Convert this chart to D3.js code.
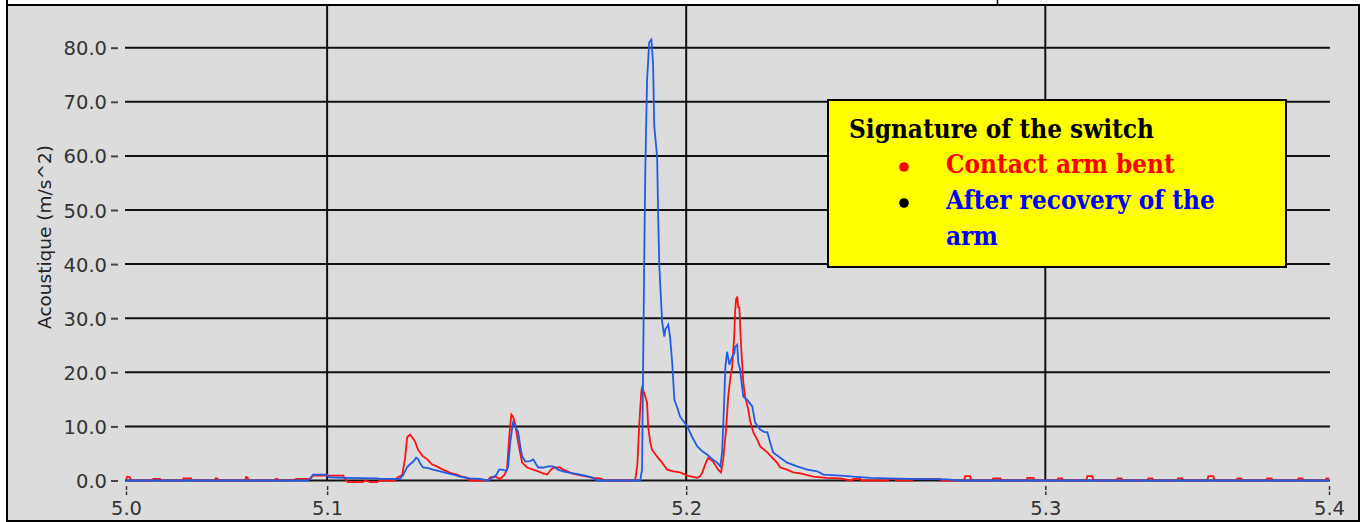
<!DOCTYPE html>
<html>
<head>
<meta charset="utf-8">
<script src="https://cdn.jsdelivr.net/npm/d3@7"></script>
<style>
  html, body { margin: 0; padding: 0; background: #ffffff; overflow: hidden; }
  svg { display: block; }
</style>
</head>
<body>
<svg id="chart" width="1361" height="522"></svg>
<script>
// Time axis (s): the edge ticks mark the visible window limits, shown to one decimal
const xTickValues = [5.044, 5.1, 5.2, 5.3, 5.379];
const xGridValues = [5.1, 5.2, 5.3];
const yTickValues = [0, 10, 20, 30, 40, 50, 60, 70, 80];
const yAxisTitle = "Acoustique (m/s^2)";

// Acoustic signature, contact arm bent (red)
const bentTime = [
  5.0440, 5.0443, 5.0451, 5.0454, 5.0515, 5.0516, 5.0521, 5.0535, 5.0538,
  5.0599, 5.0600, 5.0604, 5.0621, 5.0624, 5.0688, 5.0690, 5.0694, 5.0699,
  5.0772, 5.0774, 5.0777, 5.0783, 5.0855, 5.0857, 5.0861, 5.0869,
  5.0908, 5.0914, 5.0953, 5.0961, 5.1045, 5.1053, 5.1058, 5.1100, 5.1106,
  5.1120, 5.1139, 5.1148, 5.1189, 5.1195, 5.1209, 5.1217, 5.1223, 5.1231,
  5.1237, 5.1245, 5.1253, 5.1265, 5.1279, 5.1292, 5.1306, 5.1320, 5.1334,
  5.1348, 5.1362, 5.1376, 5.1390, 5.1398, 5.1448, 5.1454, 5.1468, 5.1482,
  5.1493, 5.1501, 5.1507, 5.1513, 5.1518, 5.1524, 5.1532, 5.1538, 5.1543,
  5.1557, 5.1574, 5.1588, 5.1602, 5.1613, 5.1621, 5.1630, 5.1649, 5.1657,
  5.1669, 5.1682, 5.1696, 5.1710, 5.1724, 5.1741, 5.1760, 5.1774, 5.1858,
  5.1864, 5.1869, 5.1875, 5.1877, 5.1883, 5.1891, 5.1894, 5.1900, 5.1905,
  5.1919, 5.1933, 5.1947, 5.1964, 5.1983, 5.2003, 5.2031, 5.2039, 5.2045,
  5.2053, 5.2061, 5.2075, 5.2089, 5.2097, 5.2103, 5.2111, 5.2117, 5.2123,
  5.2128, 5.2134, 5.2136, 5.2139, 5.2142, 5.2145, 5.2148, 5.2153, 5.2159,
  5.2164, 5.2173, 5.2178, 5.2187, 5.2198, 5.2206, 5.2226, 5.2240, 5.2253,
  5.2262, 5.2281, 5.2298, 5.2318, 5.2354, 5.2390, 5.2429, 5.2457,
  5.2462, 5.2465, 5.2485, 5.2488, 5.2562, 5.2565, 5.2582, 5.2585,
  5.2629, 5.2632, 5.2708, 5.2711, 5.2774, 5.2777, 5.2791, 5.2794,
  5.2852, 5.2855, 5.2875, 5.2878, 5.2947, 5.2950, 5.2967, 5.2970,
  5.3033, 5.3036, 5.3047, 5.3050, 5.3114, 5.3117, 5.3131, 5.3134,
  5.3198, 5.3201, 5.3212, 5.3215, 5.3284, 5.3287, 5.3298, 5.3301,
  5.3367, 5.3370, 5.3381, 5.3384, 5.3451, 5.3454, 5.3468, 5.3471,
  5.3532, 5.3535, 5.3546, 5.3549, 5.3615, 5.3618, 5.3630, 5.3633,
  5.3702, 5.3705, 5.3716, 5.3719, 5.3780, 5.3783, 5.3791
];
const bentAccel = [
  0, 0.7, 0.6, 0, 0, 0.3, 0.3, 0.3, 0,
  0, 0.4, 0.4, 0.4, 0, 0, 0.4, 0.4, 0,
  0, 0.6, 0.6, 0, 0, 0.3, 0.3, 0,
  0.1, 0.3, 0.3, 0.9, 0.9, 0, -0.3, -0.3, 0,
  -0.3, -0.3, 0, 0, 0.5, 1.0, 4.0, 8.0, 8.5,
  8.0, 7.2, 5.7, 4.6, 3.9, 3.0, 2.6, 2.1, 1.7,
  1.3, 1.1, 0.7, 0.5, 0, 0, 0.6, 0.7, 0.3,
  1.0, 2.0, 8.0, 12.2, 11.8, 10.3, 7.0, 5.0, 3.3,
  2.4, 2.0, 1.7, 1.3, 1.1, 1.8, 2.4, 2.4, 2.0,
  1.7, 1.3, 1.1, 0.9, 0.7, 0.5, 0.4, 0, 0,
  3.0, 10.0, 16.5, 17.1, 16.2, 14.4, 10.0, 7.0, 5.7,
  4.4, 3.3, 2.0, 1.7, 1.5, 0.9, 0.5, 0.8, 1.5,
  3.0, 4.2, 3.5, 2.0, 1.5, 3.9, 9.4, 15.5, 19.0,
  21.0, 27.0, 31.0, 33.5, 34.0, 32.0, 32.0, 24.7, 18.1,
  15.5, 13.1, 11.0, 8.9, 7.5, 6.3, 5.2, 4.2, 3.3,
  2.4, 2.0, 1.5, 1.3, 0.7, 0.5, 0.4, 0,
  0, 0.3, 0.3, 0, 0, 0.3, 0.3, 0,
  0, 0.3, 0.3, 0, 0, 0.8, 0.8, 0,
  0, 0.4, 0.4, 0, 0, 0.5, 0.5, 0,
  0, 0.4, 0.4, 0, 0, 0.8, 0.8, 0,
  0, 0.4, 0.4, 0, 0, 0.4, 0.4, 0,
  0, 0.4, 0.4, 0, 0, 0.8, 0.8, 0,
  0, 0.4, 0.4, 0, 0, 0.4, 0.4, 0,
  0, 0.4, 0.4, 0, 0, 0.4, 0.4
];

// Acoustic signature after recovery of the arm (blue)
const recoveredTime = [
  5.0440, 5.0947, 5.0955, 5.0961, 5.1000, 5.1006, 5.1050, 5.1139, 5.1148,
  5.1203, 5.1212, 5.1223, 5.1231, 5.1240, 5.1248, 5.1253, 5.1259, 5.1267,
  5.1281, 5.1295, 5.1315, 5.1337, 5.1357, 5.1370, 5.1398, 5.1426, 5.1448,
  5.1460, 5.1471, 5.1479, 5.1487, 5.1499, 5.1504, 5.1510, 5.1515, 5.1518,
  5.1524, 5.1532, 5.1538, 5.1543, 5.1552, 5.1565, 5.1574, 5.1582, 5.1588,
  5.1602, 5.1616, 5.1630, 5.1643, 5.1657, 5.1677, 5.1705, 5.1724, 5.1741,
  5.1752, 5.1872, 5.1877, 5.1883, 5.1886, 5.1891, 5.1897, 5.1903, 5.1905,
  5.1908, 5.1911, 5.1916, 5.1919, 5.1922, 5.1925, 5.1928, 5.1933, 5.1939,
  5.1942, 5.1947, 5.1950, 5.1955, 5.1961, 5.1967, 5.1975, 5.1983, 5.1994,
  5.2003, 5.2017, 5.2031, 5.2045, 5.2058, 5.2072, 5.2086, 5.2095, 5.2100,
  5.2106, 5.2109, 5.2114, 5.2120, 5.2128, 5.2134, 5.2136, 5.2142, 5.2145,
  5.2150, 5.2159, 5.2170, 5.2184, 5.2192, 5.2206, 5.2217, 5.2226, 5.2234,
  5.2242, 5.2262, 5.2281, 5.2309, 5.2337, 5.2365, 5.2382, 5.2429, 5.2465,
  5.2513, 5.2560, 5.2624, 5.2727, 5.2763, 5.3791
];
const recoveredAccel = [
  0, 0, 0.6, 1.1, 1.1, 0.6, 0.5, 0.4, 0.3,
  0.3, 1.0, 2.5, 3.0, 3.5, 4.2, 4.0, 3.2, 2.4,
  2.3, 2.0, 1.7, 1.3, 1.0, 0.7, 0.4, 0.3, 0,
  0.5, 1.0, 2.0, 2.0, 1.8, 2.5, 7.0, 9.5, 10.7,
  10.0, 9.0, 6.3, 4.5, 3.5, 3.6, 3.9, 3.0, 2.4,
  2.4, 2.6, 2.6, 2.0, 1.7, 1.4, 1.1, 0.8, 0.5,
  0, 0, 2.0, 40.0, 57.0, 74.0, 81.0, 81.5, 80.0,
  76.4, 65.5, 62.0, 59.8, 48.7, 40.0, 35.8, 29.3, 26.6,
  28.0, 28.4, 28.8, 26.6, 21.8, 14.9, 13.5, 11.8, 10.8,
  10.0, 8.0, 6.3, 5.4, 4.8, 4.0, 3.3, 2.6, 5.2,
  15.0, 21.0, 23.8, 21.4, 22.9, 23.5, 24.7, 25.1, 21.8,
  20.5, 15.5, 14.9, 13.7, 10.7, 9.4, 9.0, 8.9, 7.0,
  5.2, 4.2, 3.3, 2.6, 2.0, 1.7, 1.1, 0.9, 0.7,
  0.5, 0.4, 0.3, 0.2, 0, 0
];

const legendTitle = "Signature of the switch";
const legendItems = [
  { lines: ["Contact arm bent"], color: "#ff0000", bullet: "#ff0000" },
  { lines: ["After recovery of the", "arm"], color: "#0000ff", bullet: "#000000" }
];

const W = 1361, H = 522;
const svg = d3.select("#chart");

// Panel frame
svg.append("rect")
  .attr("x", 7).attr("y", 5).attr("width", 1352).attr("height", 516)
  .attr("fill", "#dcdcdc").attr("stroke", "#000").attr("stroke-width", 2);
svg.append("line")
  .attr("x1", 7).attr("x2", 7).attr("y1", 0).attr("y2", 5)
  .attr("stroke", "#000").attr("stroke-width", 2);
svg.append("line")
  .attr("x1", 997.5).attr("x2", 997.5).attr("y1", 0).attr("y2", 5)
  .attr("stroke", "#000").attr("stroke-width", 1.5);

const x = d3.scaleLinear().domain([5.044, 5.379]).range([126, 1329]);
const y = d3.scaleLinear().domain([0, 87.8]).range([480.5, 5.5]);

const fmt = d3.format(".1f");
const axisFont = "'DejaVu Sans', Verdana, sans-serif";

// Grid
const grid = svg.append("g");
grid.selectAll("line.h").data(yTickValues).join("line")
  .attr("class", "h")
  .attr("x1", x.range()[0] - 1).attr("x2", x.range()[1] + 1)
  .attr("y1", d => y(d)).attr("y2", d => y(d))
  .attr("stroke", "#111").attr("stroke-width", 2);
grid.selectAll("line.v").data(xGridValues).join("line")
  .attr("class", "v")
  .attr("x1", d => x(d)).attr("x2", d => x(d))
  .attr("y1", 5).attr("y2", y(0))
  .attr("stroke", "#111").attr("stroke-width", 2);

// Y axis: offset ticks and labels
const yAxis = d3.axisLeft(y).tickValues(yTickValues).tickFormat(fmt)
  .tickSize(7).tickPadding(4);
const gy = svg.append("g").attr("transform", "translate(118,0)").call(yAxis);
gy.select(".domain").remove();
gy.selectAll(".tick line").attr("stroke", "#444").attr("stroke-width", 2);
gy.selectAll(".tick text")
  .attr("fill", "#333").attr("font-family", axisFont).attr("font-size", 19.5)
  .attr("dy", "0.36em");

// X axis
const xAxis = d3.axisBottom(x).tickValues(xTickValues).tickFormat(fmt)
  .tickSize(9).tickPadding(6);
const gx = svg.append("g").attr("transform", "translate(0,486)").call(xAxis);
gx.select(".domain").remove();
gx.selectAll(".tick line").attr("stroke", "#333").attr("stroke-width", 1.5)
  .attr("stroke-dasharray", "4,1.5");
gx.selectAll(".tick text")
  .attr("fill", "#333").attr("font-family", axisFont).attr("font-size", 19.5);

// Y axis title
svg.append("text")
  .attr("transform", "translate(45,237) rotate(-90)")
  .attr("text-anchor", "middle").attr("dy", "0.35em")
  .attr("fill", "#222").attr("font-family", axisFont).attr("font-size", 18.5)
  .text(yAxisTitle);

// Traces
const line = d3.line().x(d => x(d[0])).y(d => y(d[1]));
const bent = d3.zip(bentTime, bentAccel);
const recovered = d3.zip(recoveredTime, recoveredAccel);

svg.append("path").datum(bent)
  .attr("d", line).attr("fill", "none")
  .attr("stroke", "#ff1010").attr("stroke-width", 1.8).attr("stroke-linejoin", "miter");
svg.append("path").datum(recovered)
  .attr("d", line).attr("fill", "none")
  .attr("stroke", "#1f5ce6").attr("stroke-width", 1.8).attr("stroke-linejoin", "miter");

// Legend box
const lg = svg.append("g");
lg.append("rect")
  .attr("x", 828).attr("y", 100).attr("width", 458).attr("height", 167)
  .attr("fill", "#ffff00").attr("stroke", "#000").attr("stroke-width", 2);

const serif = "'DejaVu Serif', 'Liberation Serif', serif";
function legendText(tx, ty, str, color) {
  lg.append("g").attr("transform", `translate(${tx},${ty}) scale(1,1.14)`)
    .append("text")
    .attr("font-family", serif).attr("font-weight", "bold").attr("font-size", 23.3)
    .attr("fill", color).text(str);
}
legendText(849, 138, legendTitle, "#000");
let baseline = 173;
legendItems.forEach(item => {
  lg.append("circle").attr("cx", 904).attr("cy", baseline - 6).attr("r", 4.8)
    .attr("fill", item.bullet);
  item.lines.forEach(str => {
    legendText(946, baseline, str, item.color);
    baseline += 36;
  });
});
</script>
</body>
</html>
